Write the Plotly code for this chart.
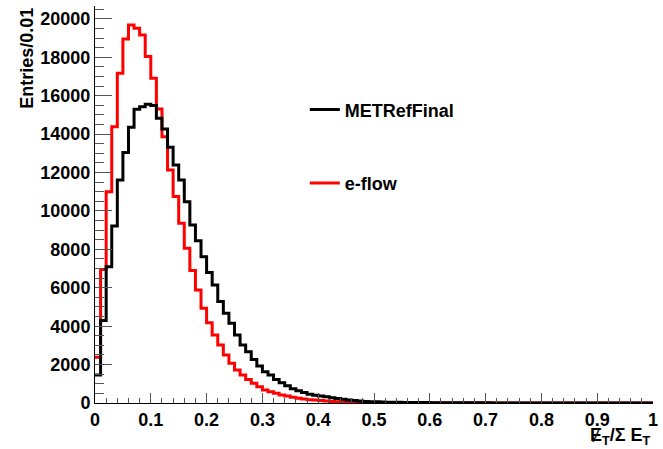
import numpy as np
import plotly.graph_objects as go

# Histogram of MET / sum ET, 100 bins of width 0.01 on [0, 1]
bin_width = 0.01
n_bins = 100

met_ref_final = [
    1460, 4290, 7100, 9220, 11610, 13040, 14360, 15300, 15430, 15560,
    15490, 14830, 14270, 13320, 12400, 11610, 10480, 9270, 8450, 7620,
    6790, 6150, 5280, 4670, 4150, 3540, 3020, 2670, 2270, 1930,
    1630, 1460, 1230, 1050, 900, 740, 640, 550, 460, 410,
    360, 320, 270, 230, 190, 160, 130, 100, 80, 70,
    60, 50, 45, 40, 35, 30, 28, 25, 22, 20,
    18, 16, 15, 13, 12, 11, 10, 9, 8, 8,
    7, 6, 6, 5, 5, 4, 4, 4, 3, 3,
    3, 3, 2, 2, 2, 2, 2, 1, 1, 1,
    1, 1, 1, 1, 1, 1, 0, 0, 0, 0,
]

e_flow = [
    2380, 6950, 11000, 14390, 17170, 18960, 19690, 19520, 19170, 18040,
    16910, 15310, 13870, 12140, 10750, 9360, 8060, 6900, 5890, 4930,
    4180, 3540, 3020, 2500, 2070, 1720, 1460, 1230, 1030, 850,
    680, 590, 505, 420, 365, 300, 250, 210, 175, 150,
    125, 100, 80, 65, 50, 40, 30, 25, 20, 17,
    14, 12, 10, 9, 8, 7, 6, 5, 5, 4,
    4, 3, 3, 3, 2, 2, 2, 2, 2, 1,
    1, 1, 1, 1, 1, 1, 1, 0, 1, 0,
    0, 1, 0, 0, 0, 1, 0, 0, 0, 0,
    0, 0, 0, 0, 0, 0, 0, 0, 0, 0,
]

y_ticks = [0, 2000, 4000, 6000, 8000, 10000, 12000, 14000, 16000, 18000, 20000]
x_ticks = [0, 0.1, 0.2, 0.3, 0.4, 0.5, 0.6, 0.7, 0.8, 0.9, 1]
x_tick_text = ["0", "0.1", "0.2", "0.3", "0.4", "0.5", "0.6", "0.7", "0.8", "0.9", "1"]

edges = np.round(np.arange(n_bins + 1) * bin_width, 4)

def step_y(vals):
    return list(vals) + [vals[-1]]

FONT = "Liberation Sans, Arial, sans-serif"

fig = go.Figure()
fig.add_trace(go.Scatter(
    x=edges, y=step_y(e_flow), mode="lines", line_shape="hv",
    line=dict(color="#ff0000", width=3), name="e-flow",
    legendgroup="b", legendrank=2,
))
fig.add_trace(go.Scatter(
    x=edges, y=step_y(met_ref_final), mode="lines", line_shape="hv",
    line=dict(color="#000000", width=3), name="METRefFinal",
    legendgroup="a", legendrank=1,
))

y_max = 1.05 * max(max(e_flow), max(met_ref_final))

fig.update_layout(
    width=663, height=449,
    margin=dict(l=95, r=5, t=6, b=46),
    paper_bgcolor="white", plot_bgcolor="white",
    font=dict(family=FONT, size=18, color="black", weight="bold"),
    showlegend=True,
    legend=dict(
        x=0.376, y=0.785, xanchor="left", yanchor="top",
        bgcolor="rgba(0,0,0,0)", borderwidth=0,
        font=dict(family=FONT, size=18, color="black", weight="bold"),
        traceorder="grouped", tracegroupgap=47,
        itemwidth=30,
    ),
    xaxis=dict(
        range=[0, 1], showgrid=False, zeroline=False,
        showline=True, linecolor="black", linewidth=1,
        ticks="inside", ticklen=10, tickcolor="#555", tickwidth=1,
        tickvals=x_ticks, ticktext=x_tick_text,
        ticklabeloverflow="allow",
        minor=dict(ticks="inside", ticklen=5, dtick=0.02, tickcolor="#555", tickwidth=1),
        tickfont=dict(family=FONT, size=18, color="black", weight="bold"),
    ),
    yaxis=dict(
        range=[0, y_max], showgrid=False, zeroline=False,
        showline=True, linecolor="black", linewidth=1,
        ticks="inside", ticklen=17, tickcolor="#555", tickwidth=1,
        tickvals=y_ticks, ticktext=[str(v) for v in y_ticks],
        ticklabeloverflow="allow",
        minor=dict(ticks="inside", ticklen=9, dtick=500, tickcolor="#555", tickwidth=1),
        tickfont=dict(family=FONT, size=18, color="black", weight="bold"),
        ticklabelstandoff=0,
    ),
    annotations=[
        dict(
            text="Entries/0.01", textangle=-90,
            xref="paper", yref="paper", x=-0.123, y=1.0,
            xanchor="center", yanchor="top", showarrow=False,
            font=dict(family=FONT, size=18, color="black", weight="bold"),
        ),
        dict(
            text="\u0246<sub>T</sub>/\u03a3 E<sub>T</sub>",
            xref="paper", yref="paper", x=1.0, y=-0.085,
            xanchor="right", yanchor="middle", showarrow=False,
            font=dict(family=FONT, size=18, color="black", weight="bold"),
        ),
    ],
)

fig.write_html("out.html")
